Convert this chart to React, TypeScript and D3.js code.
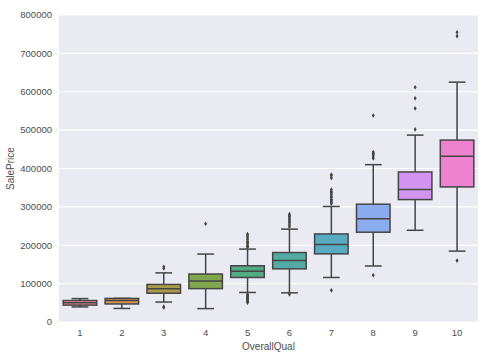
import React from 'react';
import * as d3 from 'd3';

const categories = ['1', '2', '3', '4', '5', '6', '7', '8', '9', '10'];
const whiskerLow = [39300, 35311, 52000, 34900, 77000, 76000, 116000, 146000, 239000, 184750];
const q1 = [44000, 47000, 75000, 87000, 116000, 138500, 177500, 234000, 319000, 352000];
const median = [50000, 56000, 86500, 107000, 132000, 160000, 202000, 269000, 345000, 432000];
const q3 = [56000, 61500, 98000, 125000, 146500, 181000, 229500, 307000, 391000, 474000];
const whiskerHigh = [61000, 61500, 128000, 177000, 190000, 242000, 301000, 410000, 487000, 625000];
const outliers: number[][] = [
  [],
  [],
  [37900, 40000, 139600, 144000],
  [256000],
  [50000, 53000, 55000, 58500, 60000, 62500, 64500, 67000, 70000, 72500, 195000, 198000, 200000, 205000, 208000, 210000, 215000, 220000, 225000, 228950],
  [72000, 248000, 253000, 258000, 262000, 266000, 270000, 274000, 277000, 281000],
  [82500, 308000, 312000, 315000, 318000, 320000, 325000, 328000, 333000, 337000, 340000, 345000, 375000, 381000, 384000],
  [122000, 426000, 430000, 435000, 438000, 440000, 443000, 538000],
  [501837, 556581, 582933, 611657],
  [160000, 745000, 755000],
];
const yTicks = [0, 100000, 200000, 300000, 400000, 500000, 600000, 700000, 800000];
const basePalette = ['#f77189', '#dc8932', '#ae9d31', '#77ab31', '#33b07a', '#36ada4', '#38a9c5', '#6e9bf4', '#cc7af4', '#f565cc'];

const W = 488, H = 362;
const M = { left: 59, right: 10, top: 15, bottom: 40 };

function boxColor(c: string) {
  const lab = d3.lab(c);
  lab.l += 4;
  const hsl = d3.hsl(lab.formatHex());
  hsl.s *= 0.75;
  return hsl.formatHex();
}

export default function App() {
  const x = d3.scaleBand<string>().domain(categories).range([M.left, W - M.right]).paddingInner(0).paddingOuter(0);
  const y = d3.scaleLinear().domain([0, 800000]).range([H - M.bottom, M.top]);
  const bw = x.bandwidth() * 0.8;
  const lineColor = '#454545';
  const font = "'Liberation Sans', Arial, sans-serif";
  const textColor = '#4d4d4d';

  return (
    <svg width={W} height={H} style={{ position: 'absolute', left: 0, top: 0, background: '#fff' }}>
      <rect x={M.left} y={M.top} width={W - M.left - M.right} height={H - M.top - M.bottom} fill="#eaeaf2" />
      {yTicks.map(t => (
        <g key={t}>
          <line x1={M.left} x2={W - M.right} y1={y(t)} y2={y(t)} stroke="#fff" strokeWidth={1.1} />
          <text x={M.left - 7} y={y(t)} dy="0.35em" textAnchor="end" fontFamily={font} fontSize={9.5} fill={textColor}>{t}</text>
        </g>
      ))}
      {categories.map((c, i) => {
        const cx = (x(c) as number) + x.bandwidth() / 2;
        const col = boxColor(basePalette[i]);
        const capW = bw / 2;
        return (
          <g key={c}>
            <line x1={cx} x2={cx} y1={y(whiskerLow[i])} y2={y(q1[i])} stroke={lineColor} strokeWidth={1.5} />
            <line x1={cx} x2={cx} y1={y(q3[i])} y2={y(whiskerHigh[i])} stroke={lineColor} strokeWidth={1.5} />
            <line x1={cx - capW / 2} x2={cx + capW / 2} y1={y(whiskerLow[i])} y2={y(whiskerLow[i])} stroke={lineColor} strokeWidth={1.5} />
            <line x1={cx - capW / 2} x2={cx + capW / 2} y1={y(whiskerHigh[i])} y2={y(whiskerHigh[i])} stroke={lineColor} strokeWidth={1.5} />
            <rect x={cx - bw / 2} y={y(q3[i])} width={bw} height={y(q1[i]) - y(q3[i])} fill={col} stroke={lineColor} strokeWidth={1.5} />
            <line x1={cx - bw / 2} x2={cx + bw / 2} y1={y(median[i])} y2={y(median[i])} stroke={lineColor} strokeWidth={1.5} />
            {outliers[i].map((v, j) => {
              const py = y(v);
              return (
                <path key={j} d={`M${cx},${py - 2.3}L${cx + 1.5},${py}L${cx},${py + 2.3}L${cx - 1.5},${py}Z`} fill={lineColor} />
              );
            })}
            <text x={cx} y={H - M.bottom + 14} textAnchor="middle" fontFamily={font} fontSize={9.5} fill={textColor}>{c}</text>
          </g>
        );
      })}
      <text x={(M.left + W - M.right) / 2} y={H - 12} textAnchor="middle" fontFamily={font} fontSize={10} fill={textColor}>OverallQual</text>
      <text transform={`translate(14,${(M.top + H - M.bottom) / 2}) rotate(-90)`} textAnchor="middle" fontFamily={font} fontSize={10} fill={textColor}>SalePrice</text>
    </svg>
  );
}
